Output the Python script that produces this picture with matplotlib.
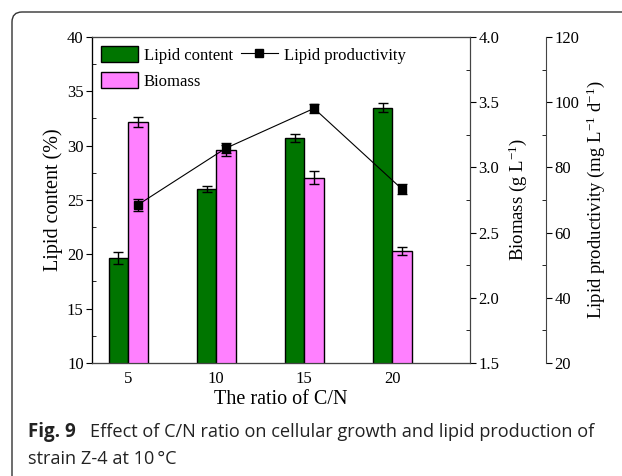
import matplotlib
matplotlib.use('Agg')
import matplotlib.pyplot as plt
import numpy as np
from matplotlib.patches import FancyBboxPatch
from matplotlib.lines import Line2D
from matplotlib.transforms import IdentityTransform
from matplotlib.ticker import MultipleLocator

# data
cn_ratio = [5, 10, 15, 20]
lipid_content = [19.7, 26.0, 30.7, 33.5]
lipid_content_err = [0.55, 0.25, 0.35, 0.4]
biomass = [3.35, 3.13, 2.92, 2.36]
biomass_err = [0.04, 0.04, 0.05, 0.03]
productivity = [68.5, 85.9, 98.1, 73.3]
productivity_err = [1.8, 1.6, 1.3, 1.6]

plt.rcParams['font.family'] = 'Liberation Serif'
plt.rcParams['mathtext.fontset'] = 'custom'
plt.rcParams['mathtext.rm'] = 'Liberation Serif'
plt.rcParams['mathtext.it'] = 'Liberation Serif:italic'

green = '#007500'
pink = '#FF80FF'
gray = '#444444'
w = 1.1
x = np.array(cn_ratio, dtype=float)

fig = plt.figure(figsize=(6.22, 4.76), dpi=100)
ax = fig.add_axes([92 / 622, 113 / 476, 378 / 622, 326 / 476])
ax2 = ax.twinx()
ax3 = ax.twinx()
ax3.spines['right'].set_position(('axes', (546 - 92) / 378))

b1 = ax.bar(x - w / 2, lipid_content, w, color=green, edgecolor='black', lw=1,
            yerr=lipid_content_err, capsize=3.5, error_kw=dict(elinewidth=1, capthick=1))
b2 = ax2.bar(x + w / 2, biomass, w, color=pink, edgecolor='black', lw=1,
             yerr=biomass_err, capsize=3.5, error_kw=dict(elinewidth=1, capthick=1))
ax3.errorbar(x + w / 2, productivity, yerr=productivity_err, color='black', lw=0.8,
             marker='s', ms=6, capsize=3.5, elinewidth=1, capthick=1)
l3 = Line2D([], [], color='black', lw=0.8, marker='s', ms=6)

ax.set_xlim(2.95, 24.4)
ax.set_ylim(10, 40)
ax2.set_ylim(1.5, 4.0)
ax3.set_ylim(20, 120)

ax.set_xticks(cn_ratio)
ax.tick_params(axis='x', length=0, labelsize=12, pad=6)
ax.yaxis.set_major_locator(MultipleLocator(5))
ax.yaxis.set_minor_locator(MultipleLocator(2.5))
ax2.yaxis.set_major_locator(MultipleLocator(0.5))
ax2.yaxis.set_minor_locator(MultipleLocator(0.25))
ax3.yaxis.set_major_locator(MultipleLocator(20))
ax3.yaxis.set_minor_locator(MultipleLocator(10))
ax2.set_yticklabels(['%.1f' % v for v in ax2.get_yticks()])
for a in (ax, ax2, ax3):
    a.tick_params(axis='y', which='major', direction='out', length=4, labelsize=12, pad=2)
    a.tick_params(axis='y', which='minor', direction='in', length=3)

for a in (ax, ax2, ax3):
    for s in ('top', 'bottom', 'right'):
        a.spines[s].set_color(gray)
ax.spines['left'].set_color('black')

ax.set_xlabel('The ratio of C/N', fontsize=14.5, labelpad=2)
ax.set_ylabel('Lipid content (%)', fontsize=14.5, labelpad=3)
ax2.set_ylabel('Biomass (g L$^{-1}$)', fontsize=13.5, labelpad=5)
ax3.set_ylabel('Lipid productivity (mg L$^{-1}$ d$^{-1}$)', fontsize=13.5, labelpad=4)

ax3.legend([b1, b2, l3], ['Lipid content', 'Biomass', 'Lipid productivity'],
           ncol=2, frameon=False, fontsize=12, loc='upper left',
           bbox_to_anchor=(0.0, 1.0), handlelength=2.2, handleheight=1.1,
           columnspacing=0.5, handletextpad=0.35, labelspacing=0.5, borderaxespad=0.15)

# caption box
box = FancyBboxPatch((12, -20), 660, 484, boxstyle='round,pad=0,rounding_size=10',
                     transform=IdentityTransform(), facecolor='none',
                     edgecolor='#333333', lw=1)
fig.patches.append(box)
fig.text(28 / 622, 1 - 432 / 476, 'Fig. 9', fontsize=13.5, fontweight='bold',
         family='Open Sans', va='center', color='#222222')
fig.text(90 / 622, 1 - 432 / 476,
         'Effect of C/N ratio on cellular growth and lipid production of',
         fontsize=13.1, family='Open Sans', va='center', color='#222222')
fig.text(28 / 622, 1 - 459 / 476, 'strain Z-4 at 10\u2009\u00b0C', fontsize=13.1,
         family='Open Sans', va='center', color='#222222')

fig.savefig('out.png', dpi=100)
